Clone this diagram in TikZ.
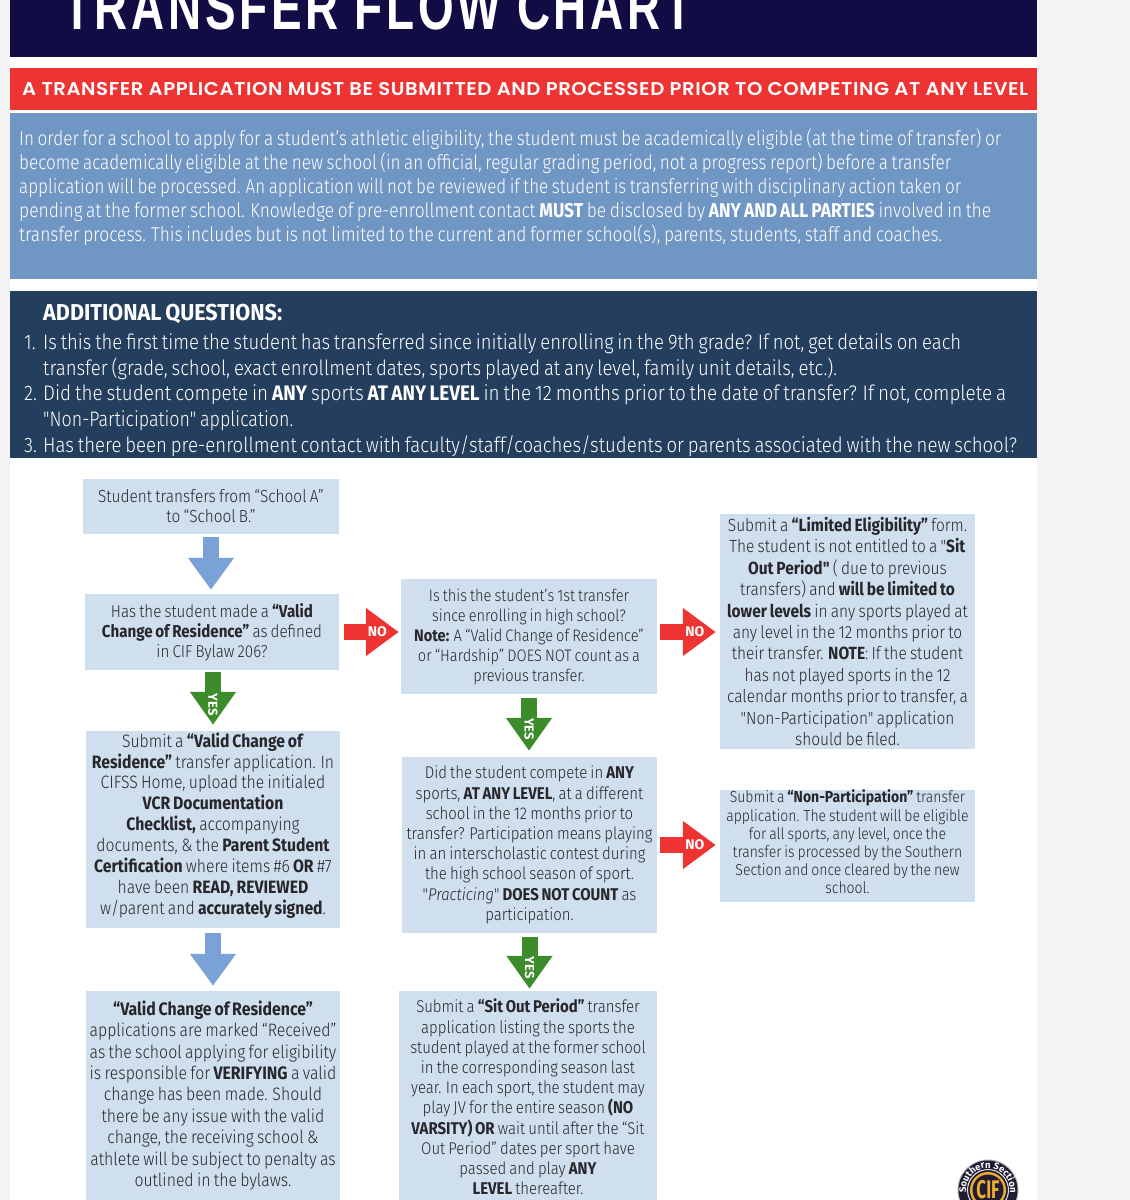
\documentclass[tikz,border=0pt]{standalone}
\usepackage{fontspec}
\usetikzlibrary{arrows.meta,calc,decorations.text}
\setmainfont{Fira Sans}[UprightFont=* Light,BoldFont=* Bold,FakeStretch=0.88,WordSpace=0.75,Ligatures=TeXOff]
\newfontfamily\titlefont{Liberation Sans}[BoldFont=* Bold,LetterSpace=8]
\newfontfamily\redfont{Poppins}[BoldFont=* SemiBold,LetterSpace=3]
\newfontfamily\labelfont{Fira Sans}[BoldFont=* Bold]
\newcommand{\fitw}[2]{\resizebox{#1pt}{\height}{#2}}
\definecolor{pagegrey}{HTML}{F4F4F4}
\definecolor{titlenavy}{HTML}{120C44}
\definecolor{redbar}{HTML}{EE3333}
\definecolor{bluebar}{HTML}{7096C3}
\definecolor{darkbar}{HTML}{243E5E}
\definecolor{boxblue}{HTML}{D0DFEE}
\definecolor{textdark}{HTML}{26262B}
\definecolor{arrowblue}{HTML}{7AA2D6}
\definecolor{arrowgreen}{HTML}{3C8C2C}
\definecolor{arrowred}{HTML}{EE3333}
\definecolor{logogold}{HTML}{EDAE2A}
\definecolor{logodark}{HTML}{211C34}
\tikzset{
  flowbox/.style={fill=boxblue,inner sep=0pt},
  flowtext/.style={text=textdark,align=center,inner sep=0pt},
  barline/.style={anchor=base west,inner sep=0pt,text=white,font=\fontsize{20}{24}\selectfont},
  qline/.style={barline,font=\fontsize{21}{24}\selectfont},
  blockbase/.style={line width=16pt,shorten >=3pt,shorten <=3pt},
  bluearr/.style={blockbase,draw=arrowblue,-{Triangle[length=32pt,width=44pt]}},
  greenarr/.style={blockbase,draw=arrowgreen,-{Triangle[length=33pt,width=44pt]}},
  redarr/.style={blockbase,draw=arrowred,-{Triangle[length=33pt,width=46pt]}},
  arrlabel/.style={text=white,inner sep=0pt,font=\labelfont\bfseries\fontsize{14}{14}\selectfont},
  yeslabel/.style={arrlabel,rotate=-90,font=\labelfont\bfseries\fontsize{13}{14}\selectfont},
}
\begin{document}
\begin{tikzpicture}[x=1pt,y=-1pt]
\useasboundingbox (0,0) rectangle (1130,1200);
\clip (0,0) rectangle (1130,1200);
\fill[pagegrey] (0,0) rectangle (1130,1200);
\fill[white] (10,0) rectangle (1037,1200);
% bars
\fill[titlenavy] (10,0) rectangle (1037,57);
\node[anchor=base west,inner sep=0pt,text=white] (title) at (63,29) {\titlefont\bfseries\fontsize{40}{40}\selectfont\resizebox{629pt}{1.6\height}{TRANSFER FLOW CHART}};
\node[fill=redbar,minimum width=1027pt,minimum height=42pt,inner sep=0pt,anchor=north west] (red) at (10,68) {};
\node[anchor=west,inner sep=0pt,text=white] (redtext) at (22,89) {\redfont\bfseries\fontsize{18.5}{20}\selectfont\fitw{1006}{A TRANSFER APPLICATION MUST BE SUBMITTED AND PROCESSED PRIOR TO COMPETING AT ANY LEVEL}};
\fill[bluebar] (10,113) rectangle (1037,279);
\node[barline] (p1) at (19,145) {\fitw{982}{In order for a school to apply for a student’s athletic eligibility, the student must be academically eligible (at the time of transfer) or}};
\node[barline] (p2) at (19,169) {\fitw{932}{become academically eligible at the new school (in an official, regular grading period, not a progress report) before a transfer}};
\node[barline] (p3) at (19,193) {\fitw{942}{application will be processed. An application will not be reviewed if the student is transferring with disciplinary action taken or}};
\node[barline] (p4) at (19,217) {\fitw{972}{pending at the former school. Knowledge of pre-enrollment contact \textbf{MUST} be disclosed by \textbf{ANY AND ALL PARTIES} involved in the}};
\node[barline] (p5) at (19,241) {\fitw{923}{transfer process. This includes but is not limited to the current and former school(s), parents, students, staff and coaches.}};
\fill[darkbar] (10,291) rectangle (1037,458);
\node[barline,font=\bfseries\fontsize{23}{24}\selectfont] (q0) at (43,320) {\fitw{239}{ADDITIONAL QUESTIONS:}};
\node[qline] (n1) at (24,349) {1.};
\node[qline] (q1) at (43,349) {\fitw{918}{Is this the first time the student has transferred since initially enrolling in the 9th grade? If not, get details on each}};
\node[qline] (q1b) at (43,375) {\fitw{794}{transfer (grade, school, exact enrollment dates, sports played at any level, family unit details, etc.).}};
\node[qline] (n2) at (24,400) {2.};
\node[qline] (q2) at (43,400) {\fitw{963}{Did the student compete in \textbf{ANY} sports \textbf{AT ANY LEVEL} in the 12 months prior to the date of transfer? If not, complete a}};
\node[qline] (q2b) at (43,426) {\fitw{250}{"Non-Participation" application.}};
\node[qline] (n3) at (24,452) {3.};
\node[qline] (q3) at (43,452) {\fitw{974}{Has there been pre-enrollment contact with faculty/staff/coaches/students or parents associated with the new school?}};
% flow boxes
\node[flowbox,minimum width=256pt,minimum height=55pt] (b1) at (211,506.5) {};
\node[flowbox,minimum width=254pt,minimum height=76pt] (b2) at (212,632) {};
\node[flowbox,minimum width=254pt,minimum height=197pt] (b3) at (213,829.5) {};
\node[flowbox,minimum width=254pt,minimum height=209pt] (b4) at (213,1095.5) {};
\node[flowbox,minimum width=256pt,minimum height=115pt] (b5) at (529,636.5) {};
\node[flowbox,minimum width=255pt,minimum height=176pt] (b6) at (529.5,845) {};
\node[flowbox,minimum width=258pt,minimum height=209pt] (b7) at (528,1095.5) {};
\node[flowbox,minimum width=255pt,minimum height=235pt] (b8) at (847.5,631.5) {};
\node[flowbox,minimum width=255pt,minimum height=112pt] (b9) at (847.5,846) {};
\node[flowtext,font=\fontsize{17.5}{20.2}\selectfont] (t1) at (211,506) {Student transfers from “School A”\\to “School B.”};
\node[flowtext,font=\fontsize{17.2}{20.2}\selectfont] (t2) at (212,632) {Has the student made a \textbf{“Valid}\\\textbf{Change of Residence”} as defined\\in CIF Bylaw 206?};
\node[flowtext,font=\fontsize{17.9}{20.9}\selectfont] (t3) at (213,825.5) {Submit a \textbf{“Valid Change of}\\\textbf{Residence”} transfer application. In\\CIFSS Home, upload the initialed\\\textbf{VCR Documentation}\\\textbf{Checklist,} accompanying\\documents, \& the \textbf{Parent Student}\\\textbf{Certification} where items \#6 \textbf{OR} \#7\\have been \textbf{READ, REVIEWED}\\w/parent and \textbf{accurately signed}.};
\node[flowtext,font=\fontsize{18}{21.4}\selectfont] (t4) at (213,1095.5) {\textbf{“Valid Change of Residence”}\\applications are marked “Received”\\as the school applying for eligibility\\is responsible for \textbf{VERIFYING} a valid\\change has been made. Should\\there be any issue with the valid\\change, the receiving school \&\\athlete will be subject to penalty as\\outlined in the bylaws.};
\node[flowtext,font=\fontsize{16.6}{20.2}\selectfont] (t5) at (529,637) {Is this the student’s 1st transfer\\since enrolling in high school?\\\textbf{Note:} A “Valid Change of Residence”\\or “Hardship” DOES NOT count as a\\previous transfer.};
\node[flowtext,font=\fontsize{17}{20.2}\selectfont] (t6) at (529.5,845) {Did the student compete in \textbf{ANY}\\sports, \textbf{AT ANY LEVEL}, at a different\\school in the 12 months prior to\\transfer? Participation means playing\\in an interscholastic contest during\\the high school season of sport.\\"\textit{Practicing}" \textbf{DOES NOT COUNT} as\\participation.};
\node[flowtext,font=\fontsize{17}{20.2}\selectfont] (t7) at (528,1097) {Submit a \textbf{“Sit Out Period”} transfer\\application listing the sports the\\student played at the former school\\in the corresponding season last\\year. In each sport, the student may\\play JV for the entire season \textbf{(NO}\\\textbf{VARSITY) OR} wait until after the “Sit\\Out Period” dates per sport have\\passed and play \textbf{ANY}\\\textbf{LEVEL} thereafter.};
\node[flowtext,font=\fontsize{17.6}{21.4}\selectfont] (t8) at (847.5,631.5) {Submit a \textbf{“Limited Eligibility”} form.\\The student is not entitled to a "\textbf{Sit}\\\textbf{Out Period"} ( due to previous\\transfers) and \textbf{will be limited to}\\\textbf{lower levels} in any sports played at\\any level in the 12 months prior to\\their transfer. \textbf{NOTE}: If the student\\has not played sports in the 12\\calendar months prior to transfer, a\\"Non-Participation" application\\should be filed.};
\node[flowtext,font=\fontsize{15.9}{18.2}\selectfont] (t9) at (847.5,842) {Submit a \textbf{“Non-Participation”} transfer\\application. The student will be eligible\\for all sports, any level, once the\\transfer is processed by the Southern\\Section and once cleared by the new\\school.};
% connectors
\draw[bluearr,shorten >=4pt] (b1.south) -- (b1.south |- b2.north);
\draw[bluearr,shorten <=5pt,shorten >=5pt] (b3.south) -- (b3.south |- b4.north);
\draw[greenarr,shorten <=2pt,shorten >=6pt] (b2.south -| b3.north) -- (b3.north) node[pos=.57,yeslabel] (y1) {YES};
\draw[greenarr,shorten <=4pt,shorten >=6pt] (b5.south) -- (b5.south |- b6.north) node[pos=.555,yeslabel] (y2) {YES};
\draw[greenarr,shorten <=4pt,shorten >=2pt] (b6.south) -- (b6.south |- b7.north) node[pos=.6,yeslabel] (y3) {YES};
\draw[redarr,shorten <=5pt,shorten >=2pt] (b2.east) -- (b2.east -| b5.west) node[pos=.62,arrlabel] (n4) {NO};
\draw[redarr,shorten <=3pt,shorten >=4pt] (b2.east -| b5.east) -- (b2.east -| b8.west) node[pos=.6,arrlabel] (n5) {NO};
\draw[redarr,shorten <=3pt,shorten >=4pt] (b6.east) -- (b6.east -| b9.west) node[pos=.6,arrlabel] (n6) {NO};
% logo
\fill[gray!60] (988,1190) circle (30.5);
\fill[logodark] (988,1190) circle (29.5);
\draw[white!80!gray,line width=1pt] (988,1190) circle (20.5);
\fill[logogold] (988,1190) circle (18);
\fill[logodark] (988,1190) circle (15.5);
\node[inner sep=0pt,text=logogold] (cif) at (988,1190) {\labelfont\bfseries\fontsize{17}{20}\selectfont\scalebox{1}[1.5]{CIF}};
\path[postaction={decorate},decoration={text along path,text align=center,text={|\labelfont\bfseries\fontsize{9.5}{10}\selectfont\color{white}|Southern Section}}] (988,1190) ++(150:22) arc[start angle=150,end angle=390,radius=22];
\end{tikzpicture}
\end{document}
